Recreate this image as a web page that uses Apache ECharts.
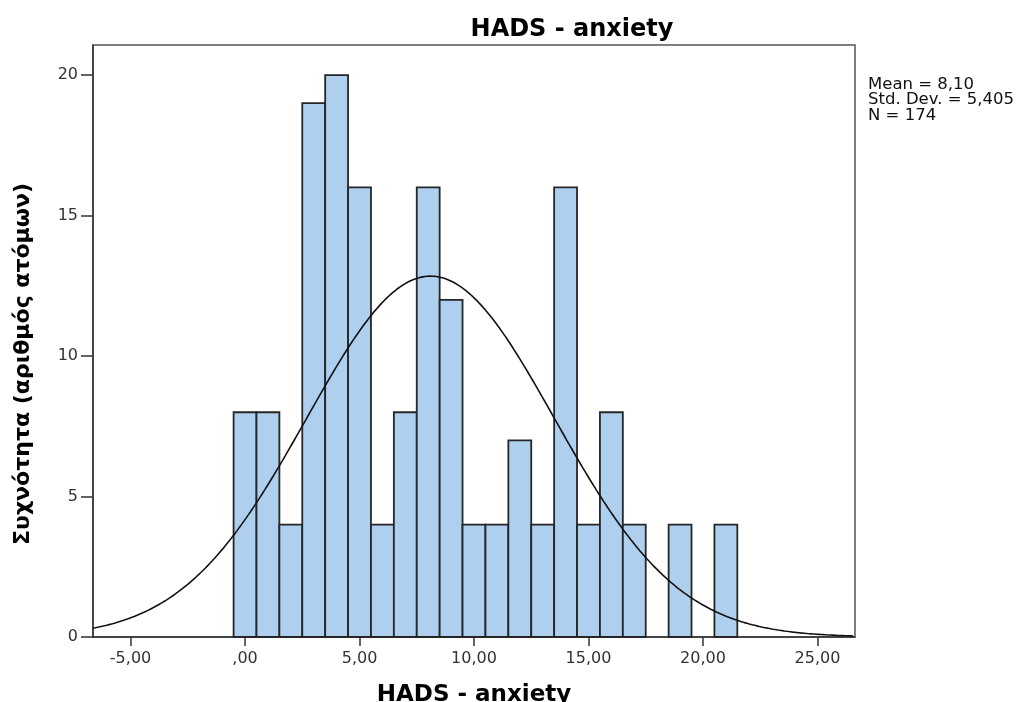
<!DOCTYPE html>
<html>
    <head>
        <meta charset="utf-8"/>
        <script src="https://cdn.jsdelivr.net/npm/echarts@6.0.0/dist/echarts.min.js"></script>
    </head>
	<body style="margin:0">
        <div id="main" style="width: 1035px;height: 702px;"></div>
		<script>
			// histogram bins (centre of each bin, width 1) and counts
			var binCenters = [0, 1, 2, 3, 4, 5, 6, 7, 8, 9, 10, 11, 12, 13, 14, 15, 16, 17, 18, 19, 20, 21];
			var counts = [8, 8, 4, 19, 20, 16, 4, 8, 16, 12, 4, 4, 7, 4, 16, 4, 8, 4, 0, 4, 0, 4];
			// summary stats printed next to the chart
			var mean = 8.10;
			var stdDev = 5.405;
			var n = 174;
			var xTicks = [-5, 0, 5, 10, 15, 20, 25];
			var yTicks = [0, 5, 10, 15, 20];

			// normal curve from the stated stats (count scale, bin width 1)
			var curve = [];
			for (var x = -6.64; x <= 26.64; x += 0.1) {
				var z = (x - mean) / stdDev;
				curve.push([x, n / (stdDev * Math.sqrt(2 * Math.PI)) * Math.exp(-0.5 * z * z)]);
			}

			var bars = binCenters.map(function (c, i) { return [c, counts[i]]; }).filter(function (d) { return d[1] > 0; });

			// SPSS style: comma decimals, no leading zero
			function fmt(v) {
				var s = v.toFixed(2).replace('.', ',');
				return s.replace(/^0,/, ',');
			}

			var myChart = echarts.init(document.getElementById('main'));
			myChart.setOption({
			  animation: false,
			  title: {
				text: 'HADS - anxiety',
				left: 567,
				textAlign: 'center',
				top: 13,
				textStyle: { fontFamily: 'DejaVu Sans', fontWeight: 'bold', fontSize: 24, color: '#000' }
			  },
			  graphic: [
				{
				  type: 'text', left: 868, top: 76,
				  style: {
					text: 'Mean = ' + mean.toFixed(2).replace('.', ',') + '\nStd. Dev. = ' + String(stdDev).replace('.', ',') + '\nN = ' + n,
					font: '16.5px "DejaVu Sans"', fill: '#111', lineHeight: 15.5
				  }
				},
				{
				  type: 'text', x: 23, y: 364, rotation: Math.PI / 2,
				  style: {
					text: 'Συχνότητα (αριθμός ατόμων)',
					font: 'bold 22px "DejaVu Sans"', fill: '#000',
					align: 'center', verticalAlign: 'middle'
				  }
				}
			  ],
			  grid: {
				left: 93, right: 180, top: 45, bottom: 65,
				outerBoundsMode: 'none',
				show: true, borderColor: '#555', borderWidth: 1.5
			  },
			  xAxis: {
				type: 'value',
				min: -6.64, max: 26.64,
				name: 'HADS - anxiety',
				nameLocation: 'middle',
				nameGap: 47,
				nameTextStyle: { fontFamily: 'DejaVu Sans', fontWeight: 'bold', fontSize: 23, color: '#000' },
				splitLine: { show: false },
				axisLine: { onZero: false, lineStyle: { color: '#333', width: 1.5 } },
				axisTick: { customValues: xTicks, length: 9, lineStyle: { color: '#333', width: 1.5 } },
				axisLabel: { customValues: xTicks, formatter: fmt, fontFamily: 'DejaVu Sans', fontSize: 16, color: '#333', margin: 14 }
			  },
			  yAxis: {
				type: 'value',
				min: 0, max: 21.07,
				splitLine: { show: false },
				axisLine: { show: true, onZero: false, lineStyle: { color: '#333', width: 1.5 } },
				axisTick: { show: true, customValues: yTicks, length: 12, lineStyle: { color: '#333', width: 1.5 } },
				axisLabel: { customValues: yTicks, fontFamily: 'DejaVu Sans', fontSize: 16, color: '#333', margin: 15 }
			  },
			  series: [
				{
				  type: 'custom',
				  data: bars,
				  renderItem: function (params, api) {
					var c = api.value(0), v = api.value(1);
					var p0 = api.coord([c - 0.5, v]);
					var p1 = api.coord([c + 0.5, 0]);
					return {
					  type: 'rect',
					  shape: { x: p0[0], y: p0[1], width: p1[0] - p0[0], height: p1[1] - p0[1] },
					  style: { fill: '#aecfee', stroke: '#262626', lineWidth: 1.8 }
					};
				  },
				  encode: { x: 0, y: 1 }
				},
				{
				  type: 'line',
				  data: curve,
				  showSymbol: false,
				  smooth: false,
				  lineStyle: { color: '#111', width: 1.6 },
				  z: 5
				}
			  ]
			});
		</script>
  </body>
</html>
